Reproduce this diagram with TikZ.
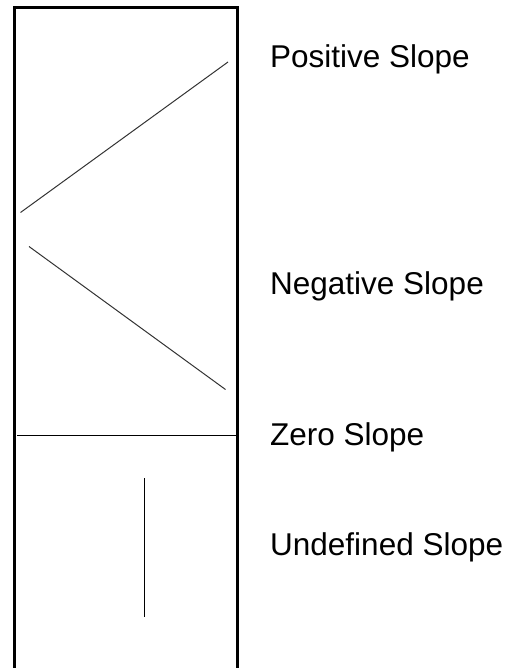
\documentclass[tikz,border=0pt]{standalone}
\usepackage{fontspec}
\setmainfont{Liberation Sans}

\begin{document}
\begin{tikzpicture}[
  x=1pt, y=-1pt,
  frame/.style={draw=black, line width=3pt},
  slope/.style={draw=black!80, line width=1pt},
  flat/.style={draw=black, line width=1.5pt},
  lbl/.style={anchor=base west, inner sep=0pt,
              font=\fontsize{31.5}{36}\selectfont},
]
\useasboundingbox (0,0) rectangle (522,668);

% ---- Frame (open at the bottom) ----
\draw[frame] (14.5,668) -- (14.5,7.5) -- (237.5,7.5) -- (237.5,668);

% ---- The four lines ----
\draw[slope] (20.5,212.5) -- (228,62);
\draw[slope] (29,246.5) -- (225.5,389.5);
\draw[flat]  (17,435.3) -- (236,435.3);
\draw[flat]  (144.3,478.3) -- (144.3,616.7);

% ---- Labels ----
\node[lbl] (pos)  at (270,67.7)  {Positive Slope};
\node[lbl] (neg)  at (270,294.3) {Negative Slope};
\node[lbl] (zero) at (270,445.0) {Zero Slope};
\node[lbl] (und)  at (270,555.7) {Undefined Slope};
\end{tikzpicture}
\end{document}
